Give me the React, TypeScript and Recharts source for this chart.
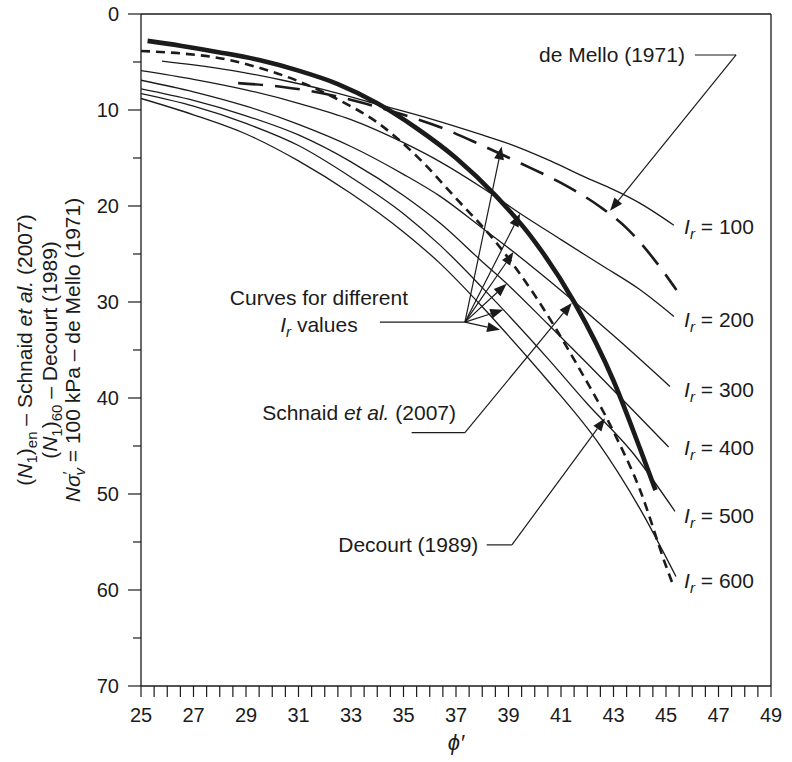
import React from "react";
import { LineChart, Line, XAxis, YAxis, ReferenceLine, ReferenceDot } from "recharts";

// phi' (deg) against N
const ir100Phi = [25.8, 27, 28.5, 30.4, 32, 34, 36, 38, 39, 40.6, 42, 43, 44, 45.3];
const ir100N = [4.9, 5.3, 5.9, 6.9, 7.9, 9.4, 10.9, 12.6, 13.5, 15.3, 17.1, 18.3, 19.7, 22.0];

const ir200Phi = [25, 27, 29, 31, 33, 35, 36.4, 38, 39.4, 41, 42.5, 44, 45.3];
const ir200N = [5.9, 6.8, 7.9, 9.3, 11.0, 13.4, 15.4, 18.1, 20.7, 23.5, 26.1, 28.7, 31.5];

const ir300Phi = [25, 27, 29, 31, 33, 35, 36.4, 38, 39.2, 41, 43, 45.15];
const ir300N = [6.9, 8.1, 9.6, 11.5, 13.8, 16.7, 19.0, 22.3, 24.8, 28.8, 33.5, 38.8];

const ir400Phi = [25, 27, 29, 31, 33, 35, 36.4, 38, 38.9, 40.5, 42, 43.5, 45.1];
const ir400N = [7.8, 9.0, 10.6, 12.6, 15.4, 18.9, 21.8, 25.8, 28.0, 32.3, 36.4, 40.6, 45.1];

const ir500Phi = [25, 27, 29, 31, 33, 35, 36.4, 38, 38.8, 40.5, 42, 43.7, 45.34];
const ir500N = [8.3, 9.6, 11.4, 13.7, 17.0, 20.8, 24.1, 28.5, 30.8, 35.9, 40.6, 45.6, 51.8];

const ir600Phi = [25, 27, 29, 31, 33, 35, 36.4, 38, 38.7, 40.5, 42.4, 44, 45.38];
const ir600N = [8.8, 10.5, 12.5, 15.3, 18.7, 22.7, 26.0, 30.5, 32.6, 38.2, 44.6, 51.5, 58.6];

const schnaidPhi = [25.25, 26.5, 28, 29.5, 31, 32.5, 34, 35.5, 37, 38.5, 40, 41.5, 43, 44, 44.6];
const schnaidN = [2.8, 3.3, 4.0, 4.8, 5.9, 7.3, 9.3, 11.9, 15.0, 18.9, 23.7, 30.0, 38.2, 45.2, 49.6];

const decourtPhi = [25, 26.5, 28, 29.5, 31, 32.5, 34, 35.5, 37, 38.5, 40, 41.5, 43, 44, 45, 45.3];
const decourtN = [3.85, 4.1, 4.6, 5.6, 7.0, 8.9, 11.3, 14.8, 19.2, 23.7, 29.3, 36.0, 43.5, 49.5, 57.5, 59.7];

const deMelloPhi = [28.7, 30.4, 32, 33.5, 35, 36.5, 38, 39.5, 41, 42.5, 43.5, 44.5, 45.4];
const deMelloN = [7.2, 7.6, 8.3, 9.3, 10.5, 11.9, 13.7, 15.6, 17.6, 20.1, 22.3, 25.4, 28.75];

const irValues = [100, 200, 300, 400, 500, 600];
const irLabelN = [22.2, 31.9, 39.2, 45.2, 52.3, 59.1];

const xTicks = [
  25, 25.5, 26, 26.5, 27, 27.5, 28, 28.5, 29, 29.5, 30, 30.5, 31, 31.5, 32, 32.5, 33, 33.5,
  34, 34.5, 35, 35.5, 36, 36.5, 37, 37.5, 38, 38.5, 39, 39.5, 40, 40.5, 41, 41.5, 42, 42.5,
  43, 43.5, 44, 44.5, 45, 45.5, 46, 46.5, 47, 47.5, 48, 48.5, 49,
];
const xLabelTicks = [25, 27, 29, 31, 33, 35, 37, 39, 41, 43, 45, 47, 49];
const yTicks = [0, 5, 10, 15, 20, 25, 30, 35, 40, 45, 50, 55, 60, 65, 70];
const yLabelTicks = [0, 10, 20, 30, 40, 50, 60, 70];

// arrows from the "Curves for different Ir values" note, tips on each curve
const irArrowFrom = { phi: 37.34, n: 32.1 };
const irArrowTips = [
  [38.74, 13.8],
  [39.44, 20.8],
  [39.19, 24.8],
  [38.93, 28.1],
  [38.8, 30.8],
  [38.68, 32.9],
];

const toPts = (phi: number[], n: number[]) => phi.map((p, i) => ({ phi: p, n: n[i] }));

const INK = "#1b1b1b";
const FONT = "'Liberation Sans', Arial, Helvetica, sans-serif";

const Arrow = (props: any) => {
  const { x1, y1, x2, y2 } = props;
  const ang = Math.atan2(y2 - y1, x2 - x1);
  const len = 13;
  const half = 5;
  const bx = x2 - len * Math.cos(ang);
  const by = y2 - len * Math.sin(ang);
  const px = -Math.sin(ang) * half;
  const py = Math.cos(ang) * half;
  return (
    <g>
      <line x1={x1} y1={y1} x2={bx} y2={by} stroke={INK} strokeWidth={1.2} />
      <polygon points={`${x2},${y2} ${bx + px},${by + py} ${bx - px},${by - py}`} fill={INK} />
    </g>
  );
};

const Leader = (props: any) => (
  <line x1={props.x1} y1={props.y1} x2={props.x2} y2={props.y2} stroke={INK} strokeWidth={1.2} />
);

const XTick = ({ x, y, payload }: any) => (
  <g>
    <line x1={x} y1={y} x2={x} y2={y + 11} stroke={INK} strokeWidth={1.2} />
    {xLabelTicks.includes(payload.value) && (
      <text x={x} y={y + 36} textAnchor="middle" fontSize={20} fill={INK}>
        {payload.value}
      </text>
    )}
  </g>
);

const YTick = ({ x, y, payload }: any) => {
  const major = yLabelTicks.includes(payload.value);
  return (
    <g>
      <line x1={x - (major ? 13 : 8)} y1={y} x2={x} y2={y} stroke={INK} strokeWidth={1.2} />
      {major && (
        <text x={x - 22} y={y + 7} textAnchor="end" fontSize={20} fill={INK}>
          {payload.value}
        </text>
      )}
    </g>
  );
};

const YTitle = ({ viewBox }: any) => {
  const cy = viewBox.y + viewBox.height / 2;
  const line = (bx: number, children: React.ReactNode) => (
    <text x={bx} y={cy} transform={`rotate(-90 ${bx} ${cy})`} textAnchor="middle" fontSize={21} fill={INK}>
      {children}
    </text>
  );
  return (
    <g>
      {line(
        viewBox.x + 24,
        <>
          <tspan>(</tspan>
          <tspan fontStyle="italic">N</tspan>
          <tspan dy={5} fontSize={15}>1</tspan>
          <tspan dy={-5}>)</tspan>
          <tspan dy={5} fontSize={15}>en</tspan>
          <tspan dy={-5}> – Schnaid </tspan>
          <tspan fontStyle="italic">et al.</tspan>
          <tspan> (2007)</tspan>
        </>
      )}
      {line(
        viewBox.x + 48.5,
        <>
          <tspan>(</tspan>
          <tspan fontStyle="italic">N</tspan>
          <tspan dy={5} fontSize={15}>1</tspan>
          <tspan dy={-5}>)</tspan>
          <tspan dy={5} fontSize={15}>60</tspan>
          <tspan dy={-5}> – Decourt (1989)</tspan>
        </>
      )}
      {line(
        viewBox.x + 72,
        <>
          <tspan fontStyle="italic">Nσ</tspan>
          <tspan dy={-7} fontSize={15}>′</tspan>
          <tspan dx={-4} dy={12} fontSize={15} fontStyle="italic">v</tspan>
          <tspan dy={-5}> = 100 kPa – de Mello (1971)</tspan>
        </>
      )}
    </g>
  );
};

const XTitle = ({ viewBox }: any) => (
  <text x={viewBox.x + viewBox.width / 2} y={viewBox.y + 64} textAnchor="middle" fontSize={22} fontStyle="italic" fill={INK}>
    ϕ′
  </text>
);

const IrLabel = ({ cx, cy, value }: any) => (
  <text x={cx} y={cy + 7} fontSize={21} fill={INK}>
    <tspan fontStyle="italic">I</tspan>
    <tspan fontStyle="italic" dy={5} fontSize={15}>r</tspan>
    <tspan dy={-5}> = {value}</tspan>
  </text>
);

const plain = (text: string, anchor: string) => (p: any) => (
  <text x={p.cx} y={p.cy + 7} textAnchor={anchor} fontSize={21} fill={INK}>
    {text}
  </text>
);

const SchnaidLabel = (p: any) => (
  <text x={p.cx} y={p.cy + 7} textAnchor="end" fontSize={21} fill={INK}>
    <tspan>Schnaid </tspan>
    <tspan fontStyle="italic">et al.</tspan>
    <tspan> (2007)</tspan>
  </text>
);

const IrValuesLabel = (p: any) => (
  <text x={p.cx} y={p.cy + 7} textAnchor="middle" fontSize={21} fill={INK}>
    <tspan fontStyle="italic">I</tspan>
    <tspan fontStyle="italic" dy={5} fontSize={15}>r</tspan>
    <tspan dy={-5}>{"  values"}</tspan>
  </text>
);

const thin = { stroke: INK, strokeWidth: 1.3, dot: false, activeDot: false, isAnimationActive: false, type: "monotone" as const };

export default function App() {
  return (
    <div style={{ position: "absolute", left: 0, top: 0, width: 792, height: 762, fontFamily: FONT }}>
      <LineChart width={792} height={762} margin={{ top: 14, right: 21, left: 8, bottom: 8 }}>
        <XAxis
          type="number"
          dataKey="phi"
          domain={[25, 49]}
          ticks={xTicks}
          interval={0}
          height={68}
          tickSize={0}
          tickMargin={0}
          tick={<XTick />}
          axisLine={{ stroke: INK, strokeWidth: 1.3 }}
          allowDataOverflow
          label={<XTitle />}
        />
        <YAxis
          type="number"
          dataKey="n"
          domain={[0, 70]}
          reversed
          ticks={yTicks}
          interval={0}
          width={133}
          tickSize={0}
          tickMargin={0}
          tick={<YTick />}
          axisLine={{ stroke: INK, strokeWidth: 1.3 }}
          allowDataOverflow
          label={<YTitle />}
        />
        <ReferenceLine y={0} stroke={INK} strokeWidth={1.3} />
        <ReferenceLine x={49} stroke={INK} strokeWidth={1.3} />

        <Line data={toPts(ir100Phi, ir100N)} dataKey="n" {...thin} />
        <Line data={toPts(ir200Phi, ir200N)} dataKey="n" {...thin} />
        <Line data={toPts(ir300Phi, ir300N)} dataKey="n" {...thin} />
        <Line data={toPts(ir400Phi, ir400N)} dataKey="n" {...thin} />
        <Line data={toPts(ir500Phi, ir500N)} dataKey="n" {...thin} />
        <Line data={toPts(ir600Phi, ir600N)} dataKey="n" {...thin} />
        <Line
          data={toPts(deMelloPhi, deMelloN)}
          dataKey="n"
          {...thin}
          strokeWidth={2.6}
          strokeDasharray="25 12"
        />
        <Line
          data={toPts(decourtPhi, decourtN)}
          dataKey="n"
          {...thin}
          strokeWidth={2.6}
          strokeDasharray="9 6"
        />
        <Line data={toPts(schnaidPhi, schnaidN)} dataKey="n" {...thin} strokeWidth={4.6} />

        {/* Curves for different Ir values */}
        <ReferenceLine segment={[{ x: 34.1, y: 32.1 }, { x: irArrowFrom.phi, y: irArrowFrom.n }]} shape={Leader} />
        {irArrowTips.map(([p, n], i) => (
          <ReferenceLine
            key={`ira${i}`}
            segment={[{ x: irArrowFrom.phi, y: irArrowFrom.n }, { x: p, y: n }]}
            shape={Arrow}
          />
        ))}
        <ReferenceDot x={31.78} y={29.6} r={0} shape={plain("Curves for different", "middle")} />
        <ReferenceDot x={31.78} y={32.4} r={0} shape={IrValuesLabel} />

        {/* de Mello */}
        <ReferenceDot x={45.72} y={4.27} r={0} shape={plain("de Mello (1971)", "end")} />
        <ReferenceLine segment={[{ x: 46.1, y: 4.27 }, { x: 47.67, y: 4.27 }]} shape={Leader} />
        <ReferenceLine segment={[{ x: 47.67, y: 4.27 }, { x: 42.87, y: 20.5 }]} shape={Arrow} />

        {/* Schnaid */}
        <ReferenceDot x={37.0} y={41.6} r={0} shape={SchnaidLabel} />
        <ReferenceLine segment={[{ x: 35.31, y: 43.6 }, { x: 37.34, y: 43.6 }]} shape={Leader} />
        <ReferenceLine segment={[{ x: 37.34, y: 43.6 }, { x: 41.41, y: 30.1 }]} shape={Arrow} />

        {/* Decourt */}
        <ReferenceDot x={37.85} y={55.3} r={0} shape={plain("Decourt (1989)", "end")} />
        <ReferenceLine segment={[{ x: 38.17, y: 55.3 }, { x: 39.13, y: 55.3 }]} shape={Leader} />
        <ReferenceLine segment={[{ x: 39.13, y: 55.3 }, { x: 42.68, y: 42.1 }]} shape={Arrow} />

        {irValues.map((v, i) => (
          <ReferenceDot
            key={`irl${v}`}
            x={45.69}
            y={irLabelN[i]}
            r={0}
            shape={(p: any) => <IrLabel cx={p.cx} cy={p.cy} value={v} />}
          />
        ))}
      </LineChart>
    </div>
  );
}
